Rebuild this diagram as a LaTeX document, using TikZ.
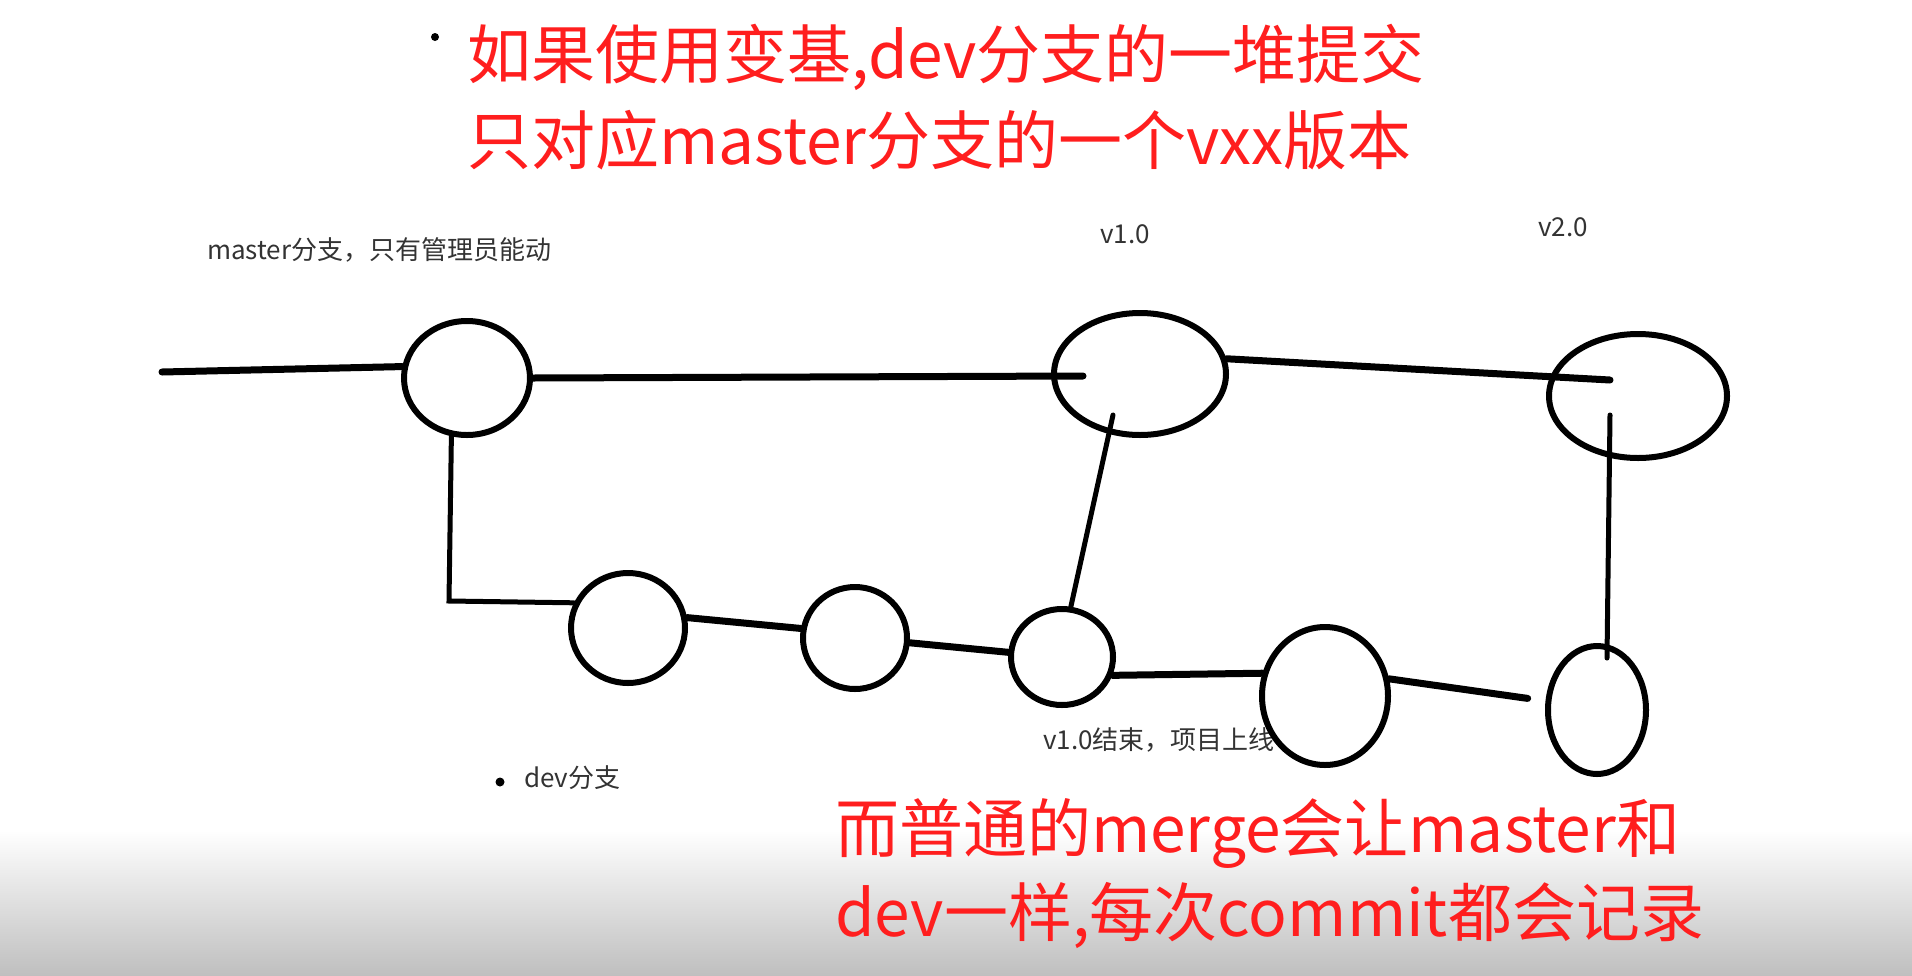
\documentclass[tikz,border=0pt]{standalone}
\usepackage{fontspec}
\setmainfont{Noto Sans CJK SC}
\usetikzlibrary{shapes.geometric,calc}
\definecolor{NoteRed}{HTML}{FF1E1E}
\definecolor{TagGray}{HTML}{333333}

\begin{document}
\begin{tikzpicture}[x=1pt,y=-1pt,
  gitcommit/.style={draw,ellipse,line width=6pt,fill=white,inner sep=0pt},
  branchline/.style={line width=7pt,line cap=round},
  mergeline/.style={line width=5pt,line cap=round},
  rednote/.style={NoteRed,font=\fontsize{64}{76}\selectfont,anchor=west,inner sep=0pt},
  smalltag/.style={TagGray,font=\fontsize{26}{30}\selectfont,inner sep=0pt}]
  \useasboundingbox (0,0) rectangle (1912,975);
  \shade[top color=white,bottom color=black!25] (0,830) rectangle (1912,975);
  % notes on rebase and merge
  \fill (435,37) circle (4);
  \node[rednote] (rebase1) at (467,57) {如果使用变基,dev分支的一堆提交};
  \node[rednote] (rebase2) at (467,140) {只对应master分支的一个vxx版本};
  \node[rednote] (merge1) at (835,833) {而普通的merge会让master和};
  \node[rednote] (merge2) at (835,915) {dev一样,每次commit都会记录};
  % small tags
  \node[smalltag,anchor=west] (mastertag) at (207,250) {master分支，只有管理员能动};
  \node[smalltag] (v1tag) at (1125,234) {v1.0}; \node[smalltag] (v2tag) at (1563,227) {v2.0};
  \node[smalltag,anchor=west] (endtag) at (1043,740) {v1.0结束，项目上线};
  \fill (500,782) circle (4.5); \node[smalltag,anchor=west] (devtag) at (524,778) {dev分支};
  % master commits
  \node[gitcommit,minimum width=126,minimum height=114] (m0) at (467,378) {};
  \node[gitcommit,minimum width=172,minimum height=122] (v1) at (1140,374) {};
  \node[gitcommit,minimum width=178,minimum height=124] (v2) at (1638,396) {};
  % dev commits
  \node[gitcommit,minimum width=114,minimum height=110] (d1) at (628,628) {};
  \node[gitcommit,minimum width=104,minimum height=102] (d2) at (855,638) {};
  \node[gitcommit,minimum width=102,minimum height=96] (d3) at (1062,657) {};
  \node[gitcommit,minimum width=126,minimum height=138] (d4) at (1325,696) {};
  \node[gitcommit,minimum width=98,minimum height=128] (d5) at (1597,710) {};
  \coordinate (start) at (162,372); \coordinate (fork) at (449,601);
  % branches
  \draw[branchline] (start) -- (m0.170);
  \draw[branchline] (m0.east) -- ($(v1.center)+(-57,2)$);
  \draw[branchline] (v1.10) -- ($(v2.center)+(-28,-16)$);
  \draw[mergeline] (m0.255) -- (fork) -- (d1.155);
  \draw[branchline] (d1.10) -- (d2.170);
  \draw[branchline] (d2.355) -- (d3.175);
  \draw[mergeline] (d3.80) -- ($(v1.center)+(-27,41)$);
  \draw[branchline] (d3.340) -- (d4.160);
  \draw[branchline,shorten >=18pt] (d4.15) -- (d5.170);
  \draw[mergeline] ($(v2.center)+(-28,19)$) -- ($(d5.center)+(10,-52)$);
\end{tikzpicture}
\end{document}
